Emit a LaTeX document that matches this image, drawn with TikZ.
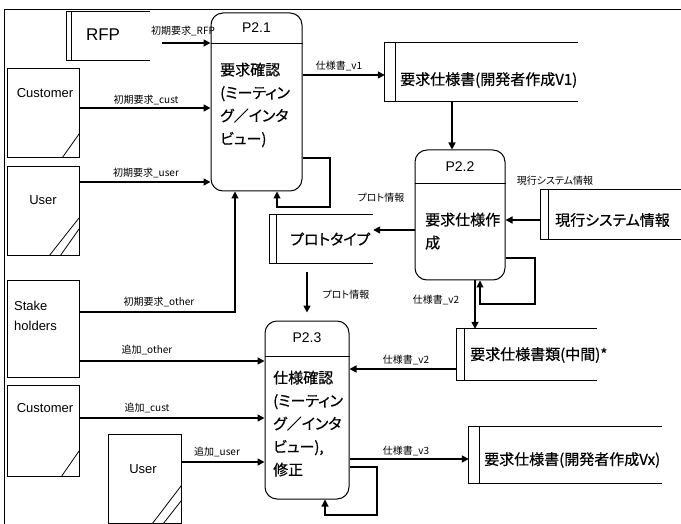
\documentclass[tikz,border=0pt]{standalone}
\usepackage{fontspec}
\setmainfont{Liberation Sans}
\newfontfamily\jp{Noto Sans CJK JP}[RawFeature=+palt]
\newfontfamily\jpb{Noto Sans CJK JP}[RawFeature=+palt, FakeBold=0.6]
\usetikzlibrary{arrows.meta}
\begin{document}
\begin{tikzpicture}[x=1pt,y=-1pt,
  ent/.style={draw, line width=0.9pt, inner sep=0},
  proc/.style={draw, rounded corners=12pt, line width=1pt, inner sep=0},
  store/.style={inner sep=0},
  stline/.style={line width=1.1pt},
  arr/.style={line width=1.6pt, -{Triangle[length=7pt,width=7pt]}},
  looparr/.style={line width=1.1pt, -{Triangle[length=7pt,width=7pt]}},
  lbl/.style={font=\jp\fontsize{10}{12}\selectfont, inner sep=0},
  big/.style={font=\jpb\fontsize{15}{23}\selectfont, inner sep=0},
  lat/.style={font=\fontsize{13}{15}\selectfont, inner sep=0},
]
\useasboundingbox (0,0) rectangle (681,524);
% frame
\draw[line width=1.6pt] (4.5,524) -- (4.5,9.5) -- (681,9.5);

% processes
\node[proc, minimum width=91, minimum height=178] (p21) at (256.5,102) {};
\node[proc, minimum width=90, minimum height=130] (p22) at (460,215) {};
\node[proc, minimum width=84, minimum height=178] (p23) at (307,410) {};
\draw[line width=0.9pt] (p21.west |- 0,43) -- (p21.east |- 0,43);
\draw[line width=0.9pt] (p22.west |- 0,183) -- (p22.east |- 0,183);
\draw[line width=0.9pt] (p23.west |- 0,356) -- (p23.east |- 0,356);
\node[lat, font=\fontsize{14}{16}\selectfont] (p21h) at (256.5,28) {P2.1};
\node[lat, font=\fontsize{14}{16}\selectfont] (p22h) at (460,167) {P2.2};
\node[lat, font=\fontsize{14}{16}\selectfont] (p23h) at (307,338) {P2.3};
\node[big, anchor=north west, align=left] (p21t) at (220,62.5) {要求確認\\(ミーティン\\グ／インタ\\ビュー)};
\node[big, anchor=north west, align=left] (p22t) at (425,212.5) {要求仕様作\\成};
\node[big, anchor=north west, align=left] (p23t) at (273,370.5) {仕様確認\\(ミーティン\\グ／インタ\\ビュー),\\修正};

% data stores
\node[store, minimum width=83, minimum height=48] (rfp) at (108.5,36) {};
\node[store, minimum width=193, minimum height=58] (v1) at (481.5,72) {};
\node[store, minimum width=140, minimum height=49] (cur) at (611,214.5) {};
\node[store, minimum width=103, minimum height=48] (proto) at (321.5,239) {};
\node[store, minimum width=140, minimum height=51] (mid) at (527,354.5) {};
\node[store, minimum width=193, minimum height=56] (vx) at (565.5,455) {};
\foreach \s/\d in {rfp/5, v1/11, cur/8, proto/7, mid/8, vx/11}{
  \draw[stline] (\s.north east) -- (\s.north west) -- (\s.south west) -- (\s.south east);
  \draw[stline] ([xshift=\d pt]\s.north west) -- ([xshift=\d pt]\s.south west);
}
\node[lat, font=\fontsize{17}{19}\selectfont] (rfpt) at (103,35) {RFP};
\node[big, anchor=west] (v1t) at (400,80) {要求仕様書(開発者作成V1)};
\node[big, anchor=west] (curt) at (555,220) {現行システム情報};
\node[big, anchor=west] (protot) at (290,239) {プロトタイプ};
\node[big, anchor=west] (midt) at (470,355) {要求仕様書類(中間)*};
\node[big, anchor=west] (vxt) at (484,460) {要求仕様書(開発者作成Vx)};

% external entities
\node[ent, minimum width=72, minimum height=89] (cust1) at (43,112.5) {};
\node[ent, minimum width=72, minimum height=89] (user1) at (43,210.5) {};
\node[ent, minimum width=72, minimum height=97] (stake) at (43,328.5) {};
\node[ent, minimum width=72, minimum height=91] (cust2) at (43,430.5) {};
\node[ent, minimum width=73, minimum height=89] (user2) at (144.5,478.5) {};
\draw[line width=0.8pt] (cust1.south east) ++(0,-24) -- ++(-17,24);
\draw[line width=0.8pt] (cust2.south east) ++(0,-26) -- ++(-18,26);
\draw[line width=0.8pt] (user1.south east) ++(0,-38) -- ++(-30,38);
\draw[line width=0.8pt] (user1.south east) ++(0,-27) -- ++(-19,27);
\draw[line width=0.8pt] (user2.south east) ++(0,-38) -- ++(-29,38);
\draw[line width=0.8pt] (user2.south east) ++(0,-23) -- ++(-18,23);
\node[lat] (cust1t) at (45,93) {Customer};
\node[lat] (user1t) at (43,200) {User};
\node[lat, anchor=west, align=left, font=\fontsize{13}{20}\selectfont] (staket) at (14,316) {Stake\\holders};
\node[lat] (cust2t) at (45,408) {Customer};
\node[lat] (user2t) at (143,469) {User};

% flows
\draw[arr] ([xshift=12pt]rfp.east |- 0,43) -- (p21.west |- 0,43);
\node[lbl] (l1) at (183,31) {初期要求\_RFP};
\draw[arr] (cust1.east |- 0,108) -- (p21.west |- 0,108);
\node[lbl] (l2) at (146,100) {初期要求\_cust};
\draw[arr] (user1.east |- 0,182) -- (p21.west |- 0,182);
\node[lbl] (l3) at (146,173) {初期要求\_user};
\draw[line width=1.1pt, -{Triangle[length=7pt,width=7pt]}] (stake.east |- 0,312) -- (235,312) -- (p21.south -| 235,0);
\node[lbl] (l4) at (159,302) {初期要求\_other};
\draw[arr] (p21.east |- 0,75) -- (v1.west |- 0,75);
\node[lbl] (l5) at (339,66) {仕様書\_v1};
\draw[arr] (v1.south -| 452,0) -- (p22.north -| 452,0);
\draw[arr] (cur.west |- 0,220) -- (p22.east |- 0,220);
\node[lbl] (l6) at (555,181) {現行システム情報};
\draw[arr] (p22.west |- 0,230) -- (proto.east |- 0,230);
\node[lbl] (l7) at (381,198) {プロト情報};
\draw[looparr] (p21.east |- 0,158) -- (330,158) -- (330,207) -- (277,207) -- (p21.south -| 277,0);
\draw[arr] ([yshift=-9pt]proto.south -| 307,0) -- ([yshift=8pt]p23.north -| 307,0);
\node[lbl] (l8) at (346,295) {プロト情報};
\draw[looparr] (p22.east |- 0,258) -- (535,258) -- (535,304) -- (480,304) -- (p22.south -| 480,0);
\draw[arr] (p22.south -| 475,0) -- (mid.north -| 475,0);
\node[lbl] (l9) at (436,300) {仕様書\_v2};
\draw[arr] (mid.west |- 0,369) -- (p23.east |- 0,369);
\node[lbl] (l10) at (406,360) {仕様書\_v2};
\draw[arr] (stake.east |- 0,361) -- (p23.west |- 0,361);
\node[lbl] (l11) at (147,350) {追加\_other};
\draw[arr] (cust2.east |- 0,418) -- (p23.west |- 0,418);
\node[lbl] (l12) at (147,408) {追加\_cust};
\draw[arr] (user2.east |- 0,462) -- (p23.west |- 0,462);
\node[lbl] (l13) at (217,452) {追加\_user};
\draw[arr] (p23.east |- 0,459) -- (vx.west |- 0,459);
\node[lbl] (l14) at (406,451) {仕様書\_v3};
\draw[looparr] (p23.east |- 0,467) -- (377,467) -- (377,515) -- (325,515) -- (p23.south -| 325,0);
\end{tikzpicture}
\end{document}
